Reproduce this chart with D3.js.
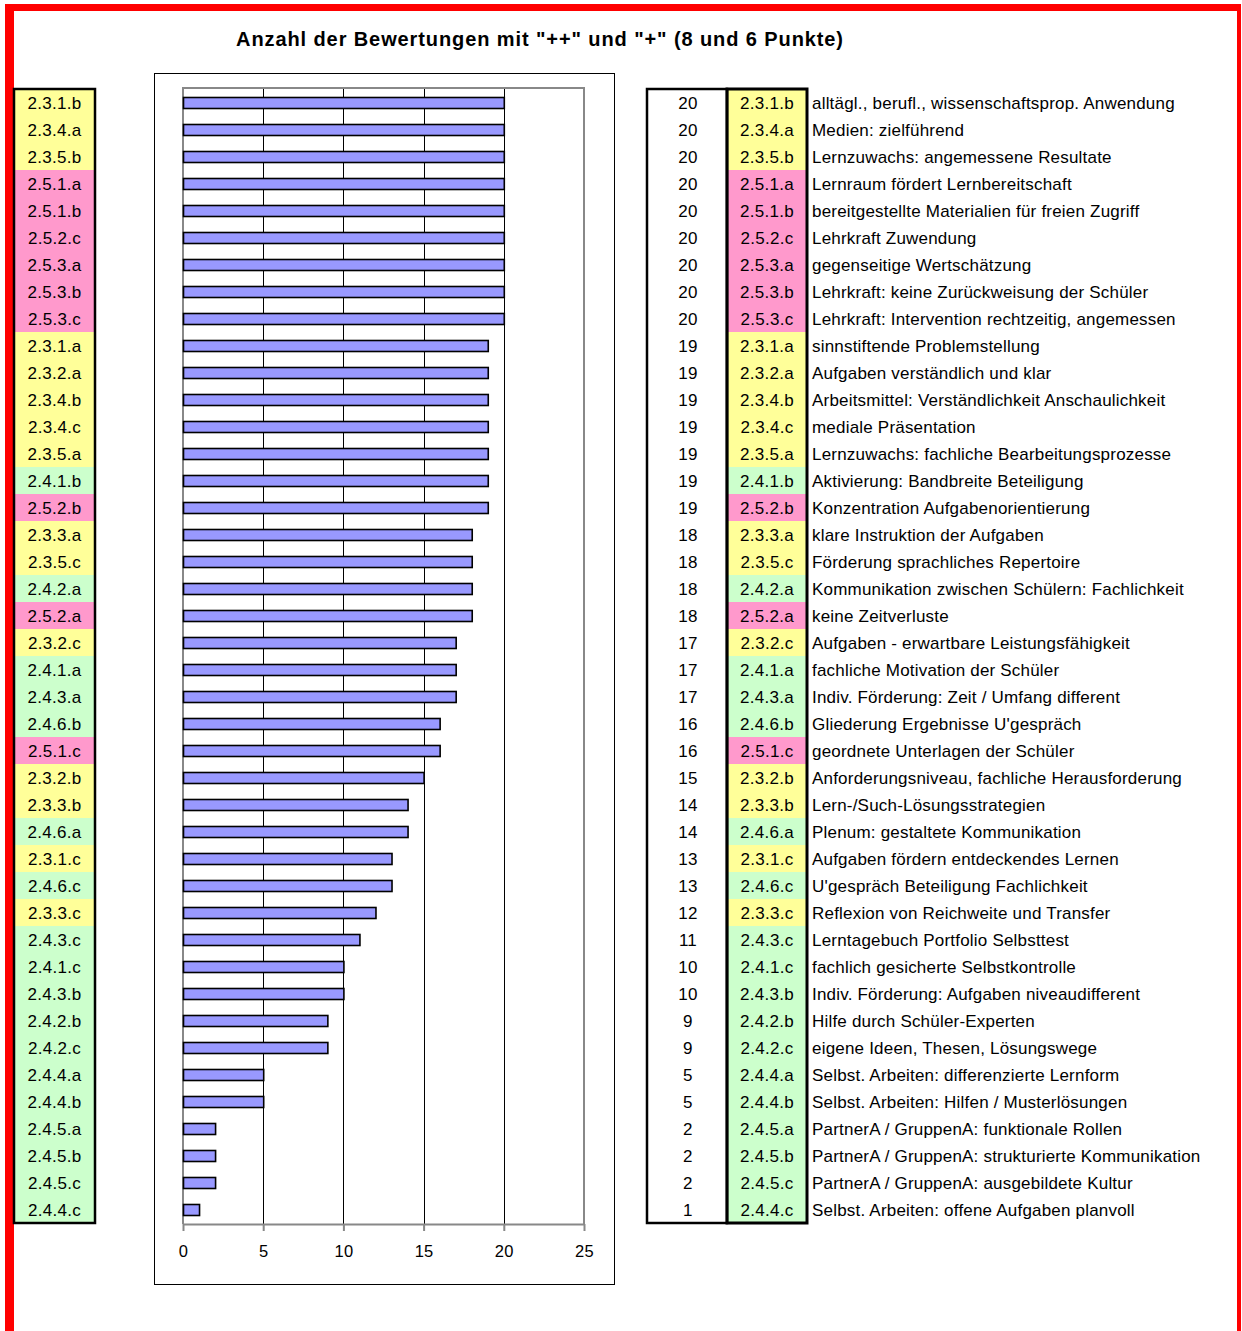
<!DOCTYPE html>
<html>
<head>
<meta charset="utf-8">
<script src="https://cdn.jsdelivr.net/npm/d3@7/dist/d3.min.js"></script>
<style>
  html, body { margin: 0; padding: 0; background: #fff; }
  svg { display: block; font-family: Arial, "Liberation Sans", sans-serif; }
</style>
</head>
<body>
<svg id="chart" width="1242" height="1331"></svg>
<script>
// Criteria codes, sorted by number of "++"/"+" ratings
const codes = [
  "2.3.1.b","2.3.4.a","2.3.5.b","2.5.1.a","2.5.1.b","2.5.2.c","2.5.3.a","2.5.3.b","2.5.3.c",
  "2.3.1.a","2.3.2.a","2.3.4.b","2.3.4.c","2.3.5.a","2.4.1.b","2.5.2.b",
  "2.3.3.a","2.3.5.c","2.4.2.a","2.5.2.a",
  "2.3.2.c","2.4.1.a","2.4.3.a",
  "2.4.6.b","2.5.1.c",
  "2.3.2.b",
  "2.3.3.b","2.4.6.a",
  "2.3.1.c","2.4.6.c",
  "2.3.3.c",
  "2.4.3.c",
  "2.4.1.c","2.4.3.b",
  "2.4.2.b","2.4.2.c",
  "2.4.4.a","2.4.4.b",
  "2.4.5.a","2.4.5.b","2.4.5.c",
  "2.4.4.c"
];

const counts = [
  20,20,20,20,20,20,20,20,20,
  19,19,19,19,19,19,19,
  18,18,18,18,
  17,17,17,
  16,16,
  15,
  14,14,
  13,13,
  12,
  11,
  10,10,
  9,9,
  5,5,
  2,2,2,
  1
];

const descriptions = [
  "alltägl., berufl., wissenschaftsprop. Anwendung",
  "Medien: zielführend",
  "Lernzuwachs: angemessene Resultate",
  "Lernraum fördert Lernbereitschaft",
  "bereitgestellte Materialien für freien Zugriff",
  "Lehrkraft Zuwendung",
  "gegenseitige Wertschätzung",
  "Lehrkraft: keine Zurückweisung der Schüler",
  "Lehrkraft: Intervention rechtzeitig, angemessen",
  "sinnstiftende Problemstellung",
  "Aufgaben verständlich und klar",
  "Arbeitsmittel: Verständlichkeit Anschaulichkeit",
  "mediale Präsentation",
  "Lernzuwachs: fachliche Bearbeitungsprozesse",
  "Aktivierung: Bandbreite Beteiligung",
  "Konzentration Aufgabenorientierung",
  "klare Instruktion der Aufgaben",
  "Förderung sprachliches Repertoire",
  "Kommunikation zwischen Schülern: Fachlichkeit",
  "keine Zeitverluste",
  "Aufgaben - erwartbare Leistungsfähigkeit",
  "fachliche Motivation der Schüler",
  "Indiv. Förderung: Zeit / Umfang different",
  "Gliederung Ergebnisse U'gespräch",
  "geordnete Unterlagen der Schüler",
  "Anforderungsniveau, fachliche Herausforderung",
  "Lern-/Such-Lösungsstrategien",
  "Plenum: gestaltete Kommunikation",
  "Aufgaben fördern entdeckendes Lernen",
  "U'gespräch Beteiligung Fachlichkeit",
  "Reflexion von Reichweite und Transfer",
  "Lerntagebuch Portfolio Selbsttest",
  "fachlich gesicherte Selbstkontrolle",
  "Indiv. Förderung: Aufgaben niveaudifferent",
  "Hilfe durch Schüler-Experten",
  "eigene Ideen, Thesen, Lösungswege",
  "Selbst. Arbeiten: differenzierte Lernform",
  "Selbst. Arbeiten: Hilfen / Musterlösungen",
  "PartnerA / GruppenA: funktionale Rollen",
  "PartnerA / GruppenA: strukturierte Kommunikation",
  "PartnerA / GruppenA: ausgebildete Kultur",
  "Selbst. Arbeiten: offene Aufgaben planvoll"
];

const areas = ["2.3", "2.4", "2.5"];
const areaColors = ["#FFFF99", "#CCFFCC", "#FF99CC"];
const xTicks = [0, 5, 10, 15, 20, 25];
const title = "Anzahl der Bewertungen mit \"++\" und \"+\" (8 und 6 Punkte)";

const rows = codes.map((c, i) => ({ code: c, value: counts[i], text: descriptions[i], area: c.slice(0, 3) }));

const svg = d3.select("#chart");
const color = d3.scaleOrdinal().domain(areas).range(areaColors);

// red page frame (left, top, right)
svg.append("rect").attr("x", 5).attr("y", 4).attr("width", 9).attr("height", 1327).attr("fill", "#FF0000");
svg.append("rect").attr("x", 5).attr("y", 4).attr("width", 1236).attr("height", 7).attr("fill", "#FF0000");
svg.append("rect").attr("x", 1237).attr("y", 4).attr("width", 4).attr("height", 1327).attr("fill", "#FF0000");

// title
svg.append("text")
  .attr("x", 540).attr("y", 46)
  .attr("text-anchor", "middle")
  .attr("font-size", 20).attr("font-weight", "bold")
  .attr("letter-spacing", 0.9)
  .attr("fill", "#000")
  .text(title);

// ---------- bar chart ----------
const plotTop = 88, plotBottom = 1224;
const x = d3.scaleLinear().domain([0, 25]).range([183, 584]);
const y = d3.scaleBand().domain(codes).range([plotTop, plotBottom])
  .paddingInner(0.59).paddingOuter(0.33);

// outer chart frame
svg.append("rect").attr("x", 154.5).attr("y", 73.5).attr("width", 460).attr("height", 1211)
  .attr("fill", "none").attr("stroke", "#000").attr("stroke-width", 1);

// vertical gridlines
svg.append("g").selectAll("line")
  .data(xTicks.filter(t => t > 0 && t < 25))
  .join("line")
  .attr("x1", d => Math.round(x(d)) + 0.5).attr("x2", d => Math.round(x(d)) + 0.5)
  .attr("y1", plotTop).attr("y2", plotBottom)
  .attr("stroke", "#000").attr("stroke-width", 1);

// plot area border (top, left, right)
svg.append("path")
  .attr("d", `M${x(0)},${plotBottom}V${plotTop}H${x(25)}V${plotBottom}`)
  .attr("fill", "none").attr("stroke", "#888").attr("stroke-width", 2);

// bars
svg.append("g").selectAll("rect")
  .data(rows)
  .join("rect")
  .attr("x", x(0) + 0.5)
  .attr("y", d => Math.round(y(d.code)) + 0.5)
  .attr("width", d => x(d.value) - x(0))
  .attr("height", Math.round(y.bandwidth()))
  .attr("fill", "#9999FF").attr("stroke", "#000").attr("stroke-width", 1.6);

// x axis
const xAxis = svg.append("g")
  .attr("transform", `translate(0,${plotBottom})`)
  .call(d3.axisBottom(x).tickValues(xTicks).tickSize(7).tickPadding(14).tickSizeOuter(0));
xAxis.select(".domain").attr("stroke", "#888").attr("stroke-width", 2);
xAxis.selectAll(".tick line").attr("stroke", "#888").attr("stroke-width", 2);
xAxis.selectAll(".tick text")
  .attr("font-size", 16.5).attr("fill", "#000")
  .attr("letter-spacing", 0.3)
  .attr("font-family", "Arial, 'Liberation Sans', sans-serif");

// ---------- tables ----------
const tableTop = 89, tableBottom = 1223;
const row = d3.scaleBand().domain(codes).range([tableTop, tableBottom]);
const step = row.step();
const baseShift = step / 2 + 6.5;

function codeColumn(x0, x1) {
  const g = svg.append("g");
  g.selectAll("rect")
    .data(rows)
    .join("rect")
    .attr("x", x0).attr("y", d => row(d.code))
    .attr("width", x1 - x0).attr("height", step + 0.5)
    .attr("fill", d => color(d.area));
  g.selectAll("text")
    .data(rows)
    .join("text")
    .attr("x", (x0 + x1) / 2)
    .attr("y", d => row(d.code) + baseShift)
    .attr("text-anchor", "middle")
    .attr("font-size", 17).attr("letter-spacing", 0.3).attr("fill", "#000")
    .text(d => d.code);
  return g;
}

// left code column
codeColumn(14, 95);
svg.append("rect").attr("x", 14).attr("y", tableTop).attr("width", 81).attr("height", tableBottom - tableTop)
  .attr("fill", "none").attr("stroke", "#000").attr("stroke-width", 2.5);

// right table: value column
svg.append("g").selectAll("text")
  .data(rows)
  .join("text")
  .attr("x", 688)
  .attr("y", d => row(d.code) + baseShift)
  .attr("text-anchor", "middle")
  .attr("font-size", 17).attr("letter-spacing", 0.3).attr("fill", "#000")
  .text(d => d.value);

// right table: code column
codeColumn(727, 807);

// right table: description column
svg.append("g").selectAll("text")
  .data(rows)
  .join("text")
  .attr("x", 812)
  .attr("y", d => row(d.code) + baseShift)
  .attr("font-size", 17).attr("letter-spacing", 0.2).attr("fill", "#000")
  .text(d => d.text);

// right table borders
svg.append("rect").attr("x", 647).attr("y", tableTop).attr("width", 80).attr("height", tableBottom - tableTop)
  .attr("fill", "none").attr("stroke", "#000").attr("stroke-width", 2.5);
svg.append("rect").attr("x", 727).attr("y", tableTop).attr("width", 80).attr("height", tableBottom - tableTop)
  .attr("fill", "none").attr("stroke", "#000").attr("stroke-width", 3);
</script>
</body>
</html>
